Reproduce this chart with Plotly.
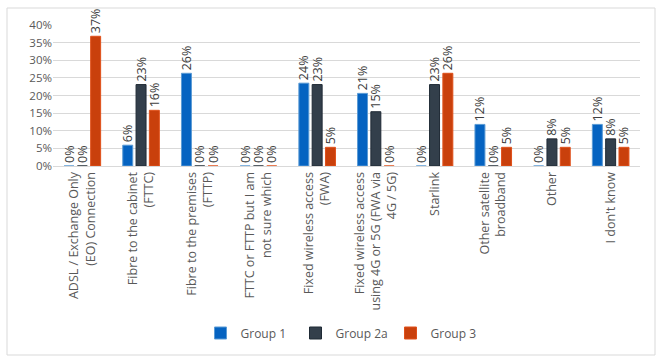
import plotly.graph_objects as go

categories = [
    "ADSL / Exchange Only<br>(EO) Connection",
    "Fibre to the cabinet<br>(FTTC)",
    "Fibre to the premises<br>(FTTP)",
    "FTTC or FTTP but I am<br>not sure which",
    "Fixed wireless access<br>(FWA)",
    "Fixed wireless access<br>using 4G or 5G (FWA via<br>4G / 5G)",
    "Starlink",
    "Other satellite<br>broadband",
    "Other",
    "I don't know",
]
group1 = [0.0, 5.9, 26.3, 0.0, 23.5, 20.6, 0.0, 11.8, 0.0, 11.8]
group2a = [0.0, 23.1, 0.0, 0.0, 23.1, 15.4, 23.1, 0.0, 7.7, 7.7]
group3 = [36.8, 15.8, 0.0, 0.0, 5.3, 0.0, 26.3, 5.3, 5.3, 5.3]
series_names = ["Group 1", "Group 2a", "Group 3"]
series_values = [group1, group2a, group3]
colors = ["#0563C1", "#333F4B", "#C9400C"]
line_colors = ["#5B9BD5", "#1F2A35", "#E0501A"]
y_ticks = [0, 5, 10, 15, 20, 25, 30, 35, 40]

FONT = "Open Sans"
fig = go.Figure()
for name, vals, c, lc in zip(series_names, series_values, colors, line_colors):
    fig.add_trace(go.Bar(
        x=categories, y=vals, name=name,
        marker=dict(color=c, line=dict(color=lc, width=1)),
        text=[f"{round(v)}%" for v in vals],
        textposition="outside", textangle=-90, constraintext="none",
        textfont=dict(family=FONT, size=12.5, color="#404040"),
        cliponaxis=False,
    ))

W, H = 667, 363
L, R, T, B = 53, 27, 25, 197
pw, ph = W - L - R, H - T - B

def px_x(x):
    return (x - L) / pw

def px_y(y):
    return (H - B - y) / ph

fig.update_layout(
    width=W, height=H,
    margin=dict(l=L, r=R, t=T, b=B),
    paper_bgcolor="white", plot_bgcolor="white",
    barmode="group", bargap=0.32, bargroupgap=0.25,
    font=dict(family=FONT, size=11, color="#595959"),
    showlegend=True,
    legend=dict(orientation="h", x=px_x(343), xanchor="center",
                y=px_y(333), yanchor="middle",
                font=dict(family=FONT, size=12, color="#595959"),
                itemwidth=30, traceorder="normal",
                entrywidth=50, entrywidthmode="pixels"),
    shapes=[dict(type="rect", xref="paper", yref="paper",
                 x0=px_x(7), x1=px_x(655), y0=px_y(355), y1=px_y(8),
                 line=dict(color="#D9D9D9", width=1), fillcolor="rgba(0,0,0,0)",
                 layer="above")],
)
fig.update_yaxes(range=[0, 40], tickvals=y_ticks,
                 ticktext=[f"{t}%" for t in y_ticks],
                 showgrid=True, gridcolor="#D9D9D9", gridwidth=1,
                 zeroline=False, showline=False,
                 tickfont=dict(family=FONT, size=11.5, color="#595959"),
                 ticks="", ticklen=0)
fig.update_xaxes(tickangle=-90, showline=True, linecolor="#D9D9D9", linewidth=1,
                 tickfont=dict(family=FONT, size=12.5, color="#595959"),
                 ticks="", automargin=False)

fig.write_html("out.html", config={"displayModeBar": False},
               post_script="document.body.style.margin='0';document.body.style.overflow='hidden';")
